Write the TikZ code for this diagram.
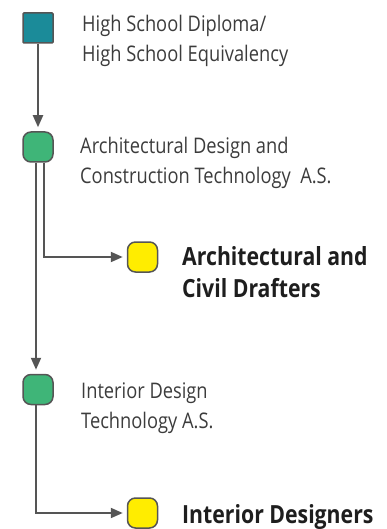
\documentclass[tikz,border=0pt]{standalone}
\usepackage{fontspec}
\setmainfont[FakeStretch=0.85]{Open Sans}
\usetikzlibrary{arrows.meta}
\definecolor{linegray}{RGB}{85,85,85}
\definecolor{entryteal}{RGB}{27,139,153}
\definecolor{proggreen}{RGB}{63,181,120}
\definecolor{jobyellow}{RGB}{255,237,0}
\definecolor{desctext}{RGB}{60,60,60}
\definecolor{jobtext}{RGB}{30,30,30}
\tikzset{
	box/.style={draw=linegray, line width=1.5pt, minimum size=30pt, inner sep=0pt},
	entrybox/.style={box, fill=entryteal, rounded corners=1pt},
	progbox/.style={box, fill=proggreen, rounded corners=8pt},
	jobbox/.style={box, fill=jobyellow, rounded corners=8pt},
	arr/.style={draw=linegray, line width=2pt, shorten >=4pt, -{Triangle[length=12pt,width=10pt]}},
	desc/.style={align=left, inner sep=0pt, text=desctext, font=\fontsize{21.5}{30}\selectfont},
	jobdesc/.style={align=left, inner sep=0pt, text=jobtext, font=\fontsize{25}{32}\selectfont\bfseries}
}
\begin{document}
\begin{tikzpicture}[x=1pt, y=-1pt]
		%%%%% FRAME %%%%%
		\useasboundingbox (0,0) rectangle (387,529);
		
		\node[entrybox] (hs) at (38,28) {};
		\node[progbox] (ad) at (38,147) {};
		\node[jobbox] (acd) at (142.5,257) {};
		\node[progbox] (id) at (38,389.5) {};
		\node[jobbox] (ids) at (142.5,513) {};
		
		% base anchor sits on the last line
		\node[desc, anchor=base west] (hstext) at (82,61.5) {High School Diploma/\\High School Equivalency};
		\node[desc, anchor=base west] (adtext) at (80,184) {Architectural Design and\\Construction Technology\ \ A.S.};
		\node[jobdesc, anchor=base west] (acdtext) at (182,297) {Architectural and\\Civil Drafters};
		\node[desc, anchor=base west] (idtext) at (81,428) {Interior Design\\Technology A.S.};
		\node[jobdesc, anchor=base west] (idstext) at (182,523) {Interior Designers};
		
		%%%%% ARROWS %%%%%
		\draw[arr] (hs) -- (ad);
		\draw[arr] ([xshift=-2pt]ad.south) -- ([xshift=-2pt]id.north);
		\draw[arr] ([xshift=6pt]ad.south) |- (acd);
		\draw[arr] ([xshift=-2pt]id.south) |- (ids);
	\end{tikzpicture}
\end{document}
